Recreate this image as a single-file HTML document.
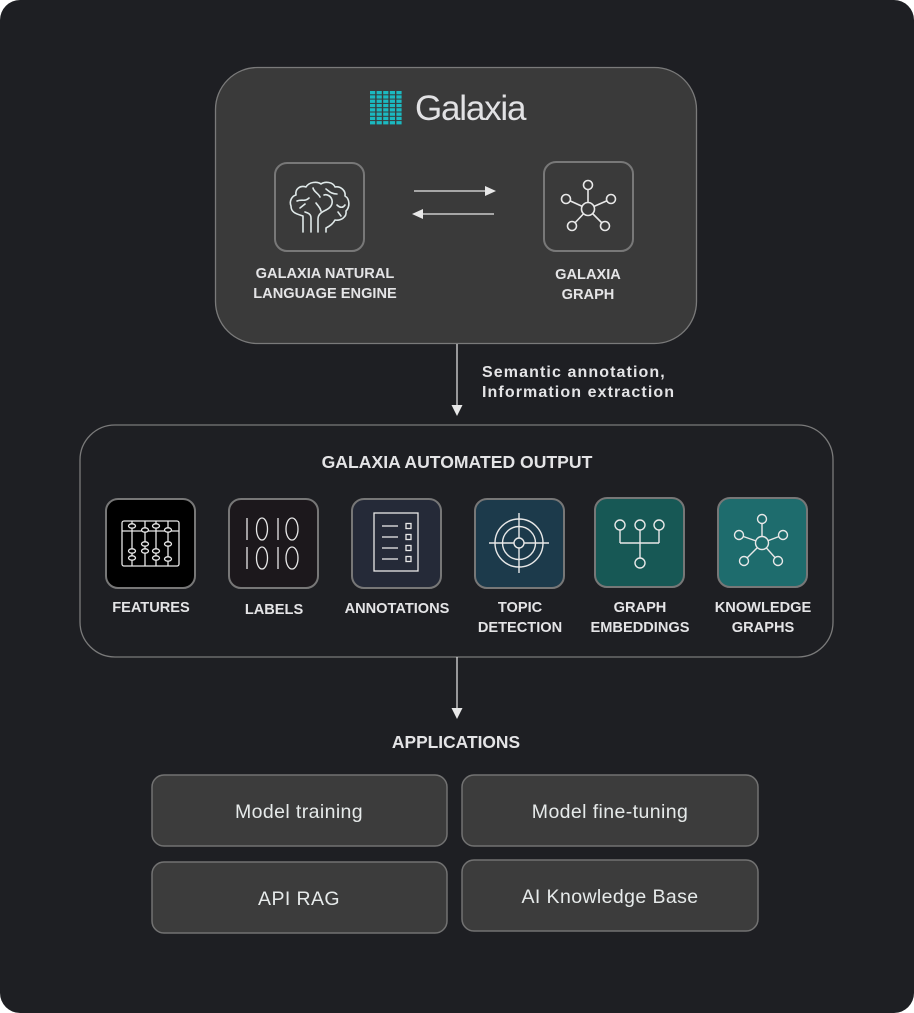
<!DOCTYPE html>
<html><head><meta charset="utf-8"><style>
html,body{margin:0;padding:0;background:#fff;}
svg{display:block;}
text{font-family:"Liberation Sans",sans-serif;}
</style></head><body>
<svg width="914" height="1013" viewBox="0 0 914 1013" xmlns="http://www.w3.org/2000/svg">
<rect x="0" y="0" width="914" height="1013" rx="20" fill="#1e1f23"/>

<!-- Top box -->
<rect x="215.5" y="67.5" width="481" height="276" rx="42" fill="#3a3a3a" stroke="#7a7a7a" stroke-width="1.3"/>
<!-- logo grid -->
<g fill="#1bb9c1">
<g id="col">
<rect x="370" y="91" width="5.2" height="3.3"/><rect x="370" y="95.3" width="5.2" height="3.3"/><rect x="370" y="99.6" width="5.2" height="3.3"/><rect x="370" y="103.9" width="5.2" height="3.3"/><rect x="370" y="108.2" width="5.2" height="3.3"/><rect x="370" y="112.5" width="5.2" height="3.3"/><rect x="370" y="116.8" width="5.2" height="3.3"/><rect x="370" y="121.1" width="5.2" height="3.3"/>
</g>
<use href="#col" x="6.6"/><use href="#col" x="13.2"/><use href="#col" x="19.8"/><use href="#col" x="26.4"/>
</g>
<text x="415" y="120" font-size="35" fill="#e2e2e4" letter-spacing="-1.2">Galaxia</text>

<!-- brain box -->
<rect x="275" y="163" width="89" height="88" rx="12" fill="#3a3a3a" stroke="#787878" stroke-width="2"/>
<g fill="none" stroke="#dfe8e8" stroke-width="1.6" stroke-linecap="round" stroke-linejoin="round">
<path d="M303,232 V216 C297,214 291,213 291,206 C289,201 292,196 296,195 C295,189 300,185 306,187 C309,182 317,181 321,184 C325,181 333,182 335,187 C341,186 346,191 345,196 C350,199 350,207 346,211 C347,217 341,221 335,220 C333,224 330,226 326,228 V232"/>
<path d="M311,232 V218 C311,214 308,213 305,212"/>
<path d="M318,232 V219 C318,214 322,212 326,210 C330,208 333,205 332,200 C331,196 327,194 324,195"/>
<path d="M297,201 C302,199 305,202 309,198"/>
<path d="M313,188 C314,192 318,193 320,197"/>
<path d="M326,189 C329,191 331,194 337,194"/>
<path d="M316,203 C318,206 320,207 321,211"/>
<path d="M337,205 C340,208 343,208 345,205"/>
<path d="M300,208 L305,204"/>
<path d="M338,212 L341,216"/>
</g>

<!-- arrows between -->
<line x1="414" y1="191" x2="486" y2="191" stroke="#e8e8e8" stroke-width="1.2"/>
<polygon points="496,191 485,186 485,196" fill="#e8e8e8"/>
<line x1="422" y1="214" x2="494" y2="214" stroke="#e8e8e8" stroke-width="1.2"/>
<polygon points="412,214 423,209 423,219" fill="#e8e8e8"/>

<!-- graph box -->
<rect x="544" y="162" width="89" height="89" rx="12" fill="#3a3a3a" stroke="#787878" stroke-width="2"/>
<g fill="none" stroke="#e8e8e8" stroke-width="1.6">
<line x1="588" y1="209" x2="588" y2="185"/>
<line x1="588" y1="209" x2="566" y2="199"/>
<line x1="588" y1="209" x2="611" y2="199"/>
<line x1="588" y1="209" x2="572" y2="226"/>
<line x1="588" y1="209" x2="605" y2="226"/>
<circle cx="588" cy="209" r="6.5" fill="#3a3a3a"/>
<circle cx="588" cy="185" r="4.5" fill="#3a3a3a"/>
<circle cx="566" cy="199" r="4.5" fill="#3a3a3a"/>
<circle cx="611" cy="199" r="4.5" fill="#3a3a3a"/>
<circle cx="572" cy="226" r="4.5" fill="#3a3a3a"/>
<circle cx="605" cy="226" r="4.5" fill="#3a3a3a"/>
</g>

<g font-weight="bold" font-size="14.6" fill="#e4e4e6" text-anchor="middle">
<text x="325" y="278">GALAXIA NATURAL</text>
<text x="325" y="298">LANGUAGE ENGINE</text>
<text x="588" y="279">GALAXIA</text>
<text x="588" y="299">GRAPH</text>
</g>

<!-- connector 1 -->
<line x1="457" y1="344" x2="457" y2="406" stroke="#e8e8e8" stroke-width="1.2"/>
<polygon points="451.5,405 462.5,405 457,416" fill="#e8e8e8"/>
<g font-weight="bold" font-size="16" fill="#e4e4e6" letter-spacing="1.1">
<text x="482" y="377">Semantic annotation,</text>
<text x="482" y="397">Information extraction</text>
</g>

<!-- middle box -->
<rect x="80" y="425" width="753" height="232" rx="35" fill="#1e1f23" stroke="#7a7a7a" stroke-width="1.3"/>
<text x="457" y="468" text-anchor="middle" font-weight="bold" font-size="17.6" fill="#e4e4e6">GALAXIA AUTOMATED OUTPUT</text>

<!-- icon boxes -->
<rect x="106" y="499" width="89" height="89" rx="12" fill="#000" stroke="#777" stroke-width="2"/>
<rect x="229" y="499" width="89" height="89" rx="12" fill="#1c181c" stroke="#777" stroke-width="2"/>
<rect x="352" y="499" width="89" height="89" rx="12" fill="#252a38" stroke="#777" stroke-width="2"/>
<rect x="475" y="499" width="89" height="89" rx="12" fill="#1c3a4b" stroke="#777" stroke-width="2"/>
<rect x="595" y="498" width="89" height="89" rx="12" fill="#175855" stroke="#777" stroke-width="2"/>
<rect x="718" y="498" width="89" height="89" rx="12" fill="#1e6c6d" stroke="#777" stroke-width="2"/>

<!-- features abacus -->
<g fill="none" stroke="#e8e8e8" stroke-width="1.3">
<rect x="122" y="521" width="57" height="45" rx="2"/>
<line x1="122" y1="531" x2="179" y2="531"/>
<line x1="132" y1="521" x2="132" y2="566"/>
<line x1="145" y1="521" x2="145" y2="566"/>
<line x1="156" y1="521" x2="156" y2="566"/>
<line x1="168" y1="521" x2="168" y2="566"/>
<g fill="#000">
<ellipse cx="132" cy="526" rx="3.5" ry="2.2"/><ellipse cx="145" cy="530" rx="3.5" ry="2.2"/><ellipse cx="156" cy="526" rx="3.5" ry="2.2"/><ellipse cx="168" cy="530" rx="3.5" ry="2.2"/>
<ellipse cx="145" cy="544" rx="3.5" ry="2.2"/><ellipse cx="168" cy="544" rx="3.5" ry="2.2"/>
<ellipse cx="132" cy="551" rx="3.5" ry="2.2"/><ellipse cx="145" cy="551" rx="3.5" ry="2.2"/><ellipse cx="156" cy="551" rx="3.5" ry="2.2"/>
<ellipse cx="132" cy="558" rx="3.5" ry="2.2"/><ellipse cx="156" cy="558" rx="3.5" ry="2.2"/><ellipse cx="168" cy="559" rx="3.5" ry="2.2"/>
</g>
</g>

<!-- labels 1010 -->
<g fill="none" stroke="#e8e8e8" stroke-width="1.3">
<line x1="247" y1="518" x2="247" y2="540"/><ellipse cx="262" cy="529" rx="5.5" ry="11"/><line x1="278" y1="518" x2="278" y2="540"/><ellipse cx="292" cy="529" rx="6" ry="11"/>
<line x1="247" y1="547" x2="247" y2="569"/><ellipse cx="262" cy="558" rx="5.5" ry="11"/><line x1="278" y1="547" x2="278" y2="569"/><ellipse cx="292" cy="558" rx="6" ry="11"/>
</g>

<!-- annotations -->
<g fill="none" stroke="#e8e8e8" stroke-width="1.3">
<rect x="374" y="513" width="44" height="58"/>
<line x1="382" y1="526" x2="398" y2="526"/><line x1="382" y1="537" x2="398" y2="537"/><line x1="382" y1="548" x2="398" y2="548"/><line x1="382" y1="559" x2="398" y2="559"/>
<rect x="406" y="523.5" width="5" height="5"/><rect x="406" y="534.5" width="5" height="5"/><rect x="406" y="545.5" width="5" height="5"/><rect x="406" y="556.5" width="5" height="5"/>
</g>

<!-- topic target -->
<g fill="none" stroke="#e8e8e8" stroke-width="1.4">
<circle cx="519" cy="543" r="24"/>
<circle cx="519" cy="543" r="16.5"/>
<circle cx="519" cy="543" r="5"/>
<line x1="489" y1="543" x2="514" y2="543"/><line x1="524" y1="543" x2="549" y2="543"/>
<line x1="519" y1="513" x2="519" y2="538"/><line x1="519" y1="548" x2="519" y2="573"/>
</g>

<!-- graph embeddings -->
<g fill="none" stroke="#e8e8e8" stroke-width="1.4">
<line x1="620" y1="530" x2="620" y2="543"/><line x1="659" y1="530" x2="659" y2="543"/>
<line x1="620" y1="543" x2="659" y2="543"/>
<line x1="640" y1="530" x2="640" y2="558"/>
<circle cx="620" cy="525" r="5"/><circle cx="640" cy="525" r="5"/><circle cx="659" cy="525" r="5"/>
<circle cx="640" cy="563" r="5"/>
</g>

<!-- knowledge graphs -->
<g fill="none" stroke="#e8e8e8" stroke-width="1.4">
<line x1="762" y1="543" x2="762" y2="519"/>
<line x1="762" y1="543" x2="739" y2="535"/>
<line x1="762" y1="543" x2="783" y2="535"/>
<line x1="762" y1="543" x2="744" y2="561"/>
<line x1="762" y1="543" x2="778" y2="561"/>
<circle cx="762" cy="543" r="6.5" fill="#1e6c6d"/>
<circle cx="762" cy="519" r="4.5" fill="#1e6c6d"/>
<circle cx="739" cy="535" r="4.5" fill="#1e6c6d"/>
<circle cx="783" cy="535" r="4.5" fill="#1e6c6d"/>
<circle cx="744" cy="561" r="4.5" fill="#1e6c6d"/>
<circle cx="778" cy="561" r="4.5" fill="#1e6c6d"/>
</g>

<g font-weight="bold" font-size="14.6" fill="#e4e4e6" text-anchor="middle">
<text x="151" y="612">FEATURES</text>
<text x="274" y="614">LABELS</text>
<text x="397" y="613">ANNOTATIONS</text>
<text x="520" y="612">TOPIC</text>
<text x="520" y="632">DETECTION</text>
<text x="640" y="612">GRAPH</text>
<text x="640" y="632">EMBEDDINGS</text>
<text x="763" y="612">KNOWLEDGE</text>
<text x="763" y="632">GRAPHS</text>
</g>

<!-- connector 2 -->
<line x1="457" y1="657" x2="457" y2="709" stroke="#e8e8e8" stroke-width="1.2"/>
<polygon points="451.5,708 462.5,708 457,719" fill="#e8e8e8"/>

<text x="456" y="748" text-anchor="middle" font-weight="bold" font-size="17.4" fill="#e4e4e6">APPLICATIONS</text>

<!-- app boxes -->
<g fill="#3c3c3c" stroke="#727272" stroke-width="1.5">
<rect x="152" y="775" width="295" height="71" rx="12"/>
<rect x="462" y="775" width="296" height="71" rx="12"/>
<rect x="152" y="862" width="295" height="71" rx="12"/>
<rect x="462" y="860" width="296" height="71" rx="12"/>
</g>
<g font-size="19.5" fill="#e6eaea" text-anchor="middle" letter-spacing="0.4">
<text x="299" y="818">Model training</text>
<text x="610" y="818">Model fine-tuning</text>
<text x="299" y="905">API RAG</text>
<text x="610" y="903">AI Knowledge Base</text>
</g>
</svg>
</body></html>
